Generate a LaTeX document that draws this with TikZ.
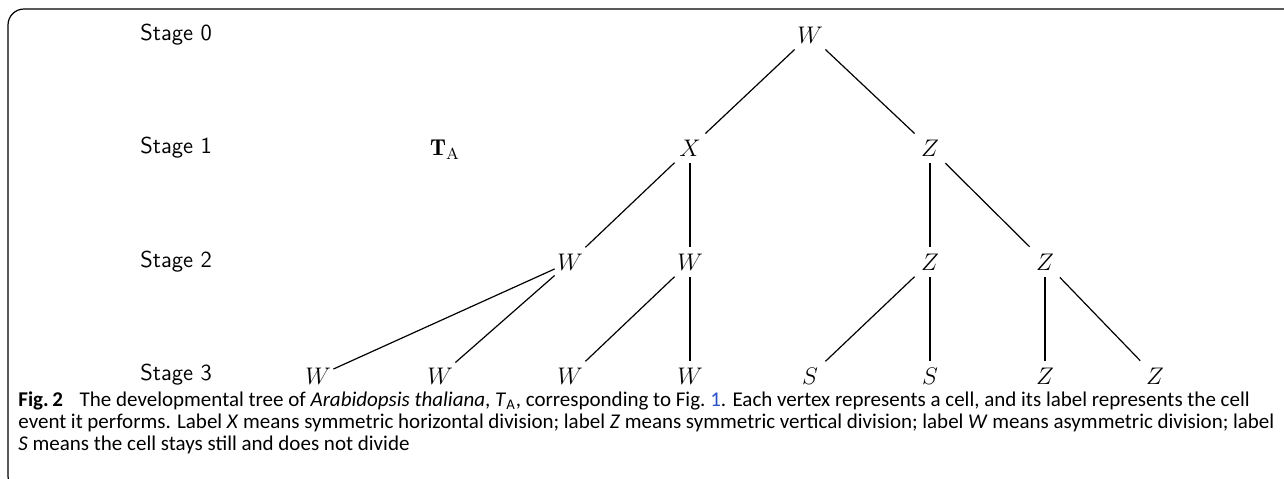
\documentclass[tikz,border=0pt]{standalone}
\usepackage{fontspec}
\newfontfamily\capfont{Carlito}
\definecolor{figblue}{RGB}{40,80,200}
\begin{document}
\begin{tikzpicture}[x=0.5pt,y=-0.5pt,
  v/.style={inner sep=0pt,minimum size=15pt,font=\fontsize{11.5}{13}\selectfont},
  stagelbl/.style={anchor=west,inner sep=0pt,font=\sffamily\fontsize{11.5}{13}\selectfont},
  edge/.style={line width=0.6pt},
  capline/.style={anchor=base west,inner sep=0pt,font=\capfont\fontsize{10.5}{12}\selectfont}]
\useasboundingbox (0,0) rectangle (1284,478);
\clip (0,0) rectangle (1284,478);
\draw[line width=0.6pt,rounded corners=8pt] (1300,9) -- (8,9) -- (8,492) -- (60,492);
% stage labels
\node[stagelbl] (s0) at (140,35) {Stage 0};
\node[stagelbl] (s1) at (140,148) {Stage 1};
\node[stagelbl] (s2) at (140,262) {Stage 2};
\node[stagelbl] (s3) at (140,375) {Stage 3};
\node[v] (ta) at (445,150) {$\mathbf{T}_{\mathrm{A}}$};
% tree
\node[v] (a) at (810,35) {$W$};
\node[v] (b1) at (690,148) {$X$};
\node[v] (b2) at (930,148) {$Z$};
\node[v] (c1) at (570,262) {$W$};
\node[v] (c2) at (690,262) {$W$};
\node[v] (c3) at (930,262) {$Z$};
\node[v] (c4) at (1045,262) {$Z$};
\node[v] (d1) at (318,376) {$W$};
\node[v] (d2) at (440,376) {$W$};
\node[v] (d3) at (570,376) {$W$};
\node[v] (d4) at (690,376) {$W$};
\node[v] (d5) at (810,376) {$S$};
\node[v] (d6) at (930,376) {$S$};
\node[v] (d7) at (1045,376) {$Z$};
\node[v] (d8) at (1155,376) {$Z$};
\draw[edge] (a) -- (b1);
\draw[edge] (a) -- (b2);
\draw[edge] (b1) -- (c1);
\draw[edge] (b1) -- (c2);
\draw[edge] (b2) -- (c3);
\draw[edge] (b2) -- (c4);
\draw[edge] (c1) -- (d1);
\draw[edge] (c1) -- (d2);
\draw[edge] (c2) -- (d3);
\draw[edge] (c2) -- (d4);
\draw[edge] (c3) -- (d5);
\draw[edge] (c3) -- (d6);
\draw[edge] (c4) -- (d7);
\draw[edge] (c4) -- (d8);
% caption
\node[capline] (cap1) at (18,406) {\textbf{Fig.\,2}\hspace{0.8em}The developmental tree of \textit{Arabidopsis thaliana}, \textit{T}\textsubscript{A}, corresponding to Fig.~\textcolor{figblue}{1}. Each vertex represents a cell, and its label represents the cell};
\node[capline] (cap2) at (18,428) {\spaceskip=0.22em plus 0.1em event it performs. Label \textit{X} means symmetric horizontal division; label \textit{Z} means symmetric vertical division; label \textit{W} means asymmetric division; label};
\node[capline] (cap3) at (18,450) {\textit{S} means the cell stays still and does not divide};
\end{tikzpicture}
\end{document}
